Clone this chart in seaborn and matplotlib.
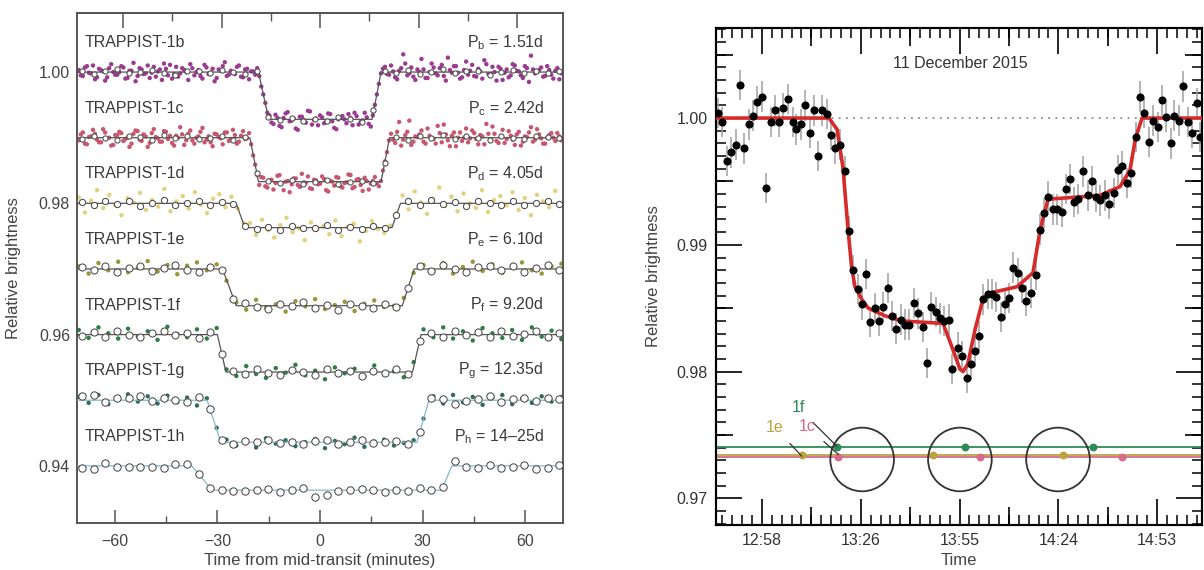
import numpy as np
import pandas as pd
import matplotlib
matplotlib.use("Agg")
import matplotlib.pyplot as plt
import seaborn as sns
from matplotlib.ticker import MultipleLocator

# ---------------- left panel: folded transits of the seven planets ----------------
planets = ["b", "c", "d", "e", "f", "g", "h"]
periods = ["1.51d", "2.42d", "4.05d", "6.10d", "9.20d", "12.35d", "14\u201325d"]
baselines = [1.00, 0.99, 0.98, 0.97, 0.96, 0.95, 0.94]
# transit shape: ingress start/end, egress start/end (min), depth (1e-4)
ing_start = [-18.0, -20.5, -24.5, -28.5, -30.0, -33.0, -37.5]
ing_end = [-15.0, -18.0, -22.0, -24.5, -27.5, -29.0, -31.5]
egr_start = [15.2, 17.8, 21.0, 24.0, 27.0, 28.3, 35.5]
egr_end = [17.8, 20.3, 23.5, 27.5, 29.5, 31.8, 38.5]
depth = [72, 67, 37, 56, 57, 64, 37]

dot_colors = {"b": "#9b3a8f", "c": "#c9566f", "d": "#e2d27e", "e": "#9a9438",
              "f": "#2f7d45", "g": "#2f6e5c"}
line_colors = ["#555555", "#555555", "#555555", "#555555", "#555555", "#86b7cc", "#86b7cc"]
bin_sizes = [14, 14, 20, 26, 26, 28, 28]

# individual measurements, offsets from baseline in units of 1e-4
dots_b = [3, -6, 9, -2, -11, 5, 1, -8, 12, -4, 0, 7, -9, 2, -14, 6, -3, 10, -1, -7,
          4, 13, -5, -10, 8, -2, 3, -12, 6, 0, -6, 11, -3, 5, -9, 2, 15, -4, -1, 8,
          -7, 4, -11, 1, 6, -22, -47,
          -66, -79, -70, -84, -63, -75, -71, -88, -68, -77, -60, -73, -81, -69, -76, -64,
          -85, -72, -67, -78, -70, -62, -80, -74, -69, -83, -50, -18,
          5, -3, 10, -8, 2, 27, -5, 7, -12, 0, 4, -9, 13, -2, 6, -6, 22, -1, 9, -10,
          3, -4, 11, -7, 1, 18, -3, 8, -13, 5, -1, -8, 12, 2, -5, 9, -15, 4, 0, 7,
          -6, 3, -10, 6, -2]
dots_b2 = [-5, 7, -1, 10, -8, 3, -13, 6, 0, -4, 9, -10, 2, 14, -6, 4, -2, -9, 8, 1,
           -12, 5, 11, -3, -7, 6, 0, 12, -5, 3, -10, 7, -1, -14, 4, 9, -6, 2, -3, 10,
           -8, 5, 1, -4, -6, -34, -62,
           -77, -65, -82, -70, -61, -74, -86, -68, -73, -59, -80, -71, -66, -78, -63, -75,
           -87, -69, -72, -64, -81, -67, -76, -62, -79, -66, -34, -2,
           8, -4, 1, -11, 6, 13, -2, -7, 4, 20, -9, 0, 7, -5, 11, -13, 3, 9, -1, -8,
           16, 2, -6, 5, -10, 12, -3, 0, 8, -12, 4, -5, 10, 1, -9, 6, 25, -2, 3, -7,
           9, -4, 2, -11]
dots_c = [-4, 8, -10, 2, 6, -7, 13, -1, -12, 4, 9, -5, 0, -9, 11, -3, 5, -14, 7, 1,
          -6, 10, -2, -8, 3, 16, -11, 6, -4, 0, 9, -7, 2, -13, 5, -1, 8, -5, 12, -9,
          3, -2, 7, -27, -57,
          -60, -74, -65, -79, -58, -70, -67, -83, -62, -72, -55, -69, -77, -64, -71, -59,
          -80, -66, -73, -61, -76, -68, -57, -75, -63, -81, -66, -70, -60, -74, -50, -22,
          6, -8, 24, -3, 9, -11, 2, 5, -6, 14, -1, -9, 7, 20, -4, 3, -13, 8, 0, -7,
          11, -2, 4, -10, 6, 17, -5, 1, -8, 10, -3, 5, -12, 2, 8, -6, 13, -1, -9, 4,
          0, 7, -4]
dots_c2 = [5, -9, 1, 12, -3, -7, 8, 0, -11, 4, 7, -2, -14, 6, 10, -5, 2, -8, 13, -1,
           -6, 9, 3, -12, 0, 5, -4, 11, -9, 2, 15, -3, -7, 6, 1, -10, 8, -2, 4, -6,
           10, -1, -10, -41,
           -72, -61, -76, -64, -69, -57, -80, -66, -71, -62, -75, -68, -59, -78, -65, -70,
           -63, -82, -67, -60, -74, -69, -56, -77, -64, -72, -61, -79, -66, -70,
           -66, -36, -4,
           -3, 9, -12, 4, 26, -6, 1, 11, -9, 3, -2, 18, -7, 5, -13, 8, 0, -5, 14, -1,
           7, -10, 2, 21, -4, 6, -8, 12, -2, 3, -11, 9, -6, 1, 16, -3, 5, -9, 0, 7,
           -5, 2]
dots_d = [9, -14, 4, 20, -7, 13, -3, -18, 8, 1, 16, -10, 5, -5, 22, -12, 3, 11, -8, 17,
          -2, -15, 7, 14, -6, 10, -8, -30,
          -30, -48, -25, -41, -52, -33, -22, -44, -38, -56, -29, -40, -35, -47, -26, -50,
          -36, -31, -58, -42, -27, -39, -45, -34, -15,
          12, -9, 18, 2, -16, 7, 24, -4, 10, -12, 15, 0, -7, 20, -13, 5, 11, -3, 17, -10,
          8, -18, 13, 3, -6, 19, -1]
dots_e = [4, -7, 9, -2, 11, -5, 2, 12, -4, 6, -8, 5, 10, -2, 7, -18,
          -51, -62, -47, -59, -54, -65, -49, -57, -46, -61, -55, -50, -64, -53, -48, -58, -56,
          -44, -6, 6, -4, 9, -7, 3, 11, -3, 7, -6, 5, 10, -2, -7, 4, 8]
dots_f = [7, -5, 11, 2, -6, 9, -3, 5, -8, 12, 1, -4, 8, -6, 10,
          -53, -63, -48, -60, -66, -51, -58, -46, -62, -55, -68, -50, -59, -52, -64, -47,
          -61, -56, -65, -42,
          8, -4, 11, -6, 5, -9, 10, 2, -5, 7, -8, 11, -3, 6, -7]
dots_g = [5, -4, 8, -6, 3, 9, -2, 6, -5, 7, -3, 4, -8, 3, -42,
          -60, -69, -63, -72, -58, -66, -61, -70, -64, -59, -73, -62, -67, -57, -71, -63,
          -60, -69, -65, -61, -28,
          6, -5, 8, -3, 5, -7, 4, 8, -6, 2, -4, 6, -2, 5]

# 3.4-minute binned points (open circles), offsets in 1e-4
bin_times = [-69.5, -66.1, -62.7, -59.3, -55.9, -52.5, -49.1, -45.7, -42.3, -38.9,
             -35.5, -32.1, -28.7, -25.3, -21.9, -18.5, -15.1, -11.7, -8.3, -4.9,
             -1.5, 1.9, 5.3, 8.7, 12.1, 15.5, 18.9, 22.3, 25.7, 29.1,
             32.5, 35.9, 39.3, 42.7, 46.1, 49.5, 52.9, 56.3, 59.7, 63.1, 66.5, 69.9]
bins_b = [2, -3, 1, 4, -2, 0, 3, -1, -4, 2, 1, -2, 3, 0, -3, 1, -68,
          -73, -70, -75, -71, -74, -69, -72, -76, -58,
          2, -1, 3, -3, 0, 4, -2, 1, 2, -4, 0, 3, -1, 2, -2, 1]
bins_c = [-2, 3, 0, -4, 2, 1, -3, 4, -1, 2, -2, 0, 3, -3, 1, -54,
          -66, -69, -64, -70, -67, -65, -71, -68, -66, -69, -38,
          1, -3, 2, 0, 4, -2, 3, -1, -4, 2, 0, -2, 3, 1, -1]
bins_d = [2, -3, 4, -1, 3, -4, 1, 5, -2, 0, 3, -3, 2, -1,
          -34, -39, -36, -41, -35, -38, -37, -33, -40, -36, -39, -35, -38, -18,
          3, -2, 5, -1, 2, -4, 3, 0, -3, 4, -2, 1, 3, -1]
bins_e = [3, -2, 5, -4, 1, 4, -3, 2, 6, -1, -5, 3, -2, -45,
          -52, -58, -61, -54, -57, -50, -59, -55, -62, -53, -57, -60, -54, -58, -29,
          4, -3, 6, 0, -5, 3, 5, -2, 4, -4, 2, 6, -1]
bins_f = [-2, 4, -3, 5, 0, -4, 3, 6, -1, 2, -5, 4, -30,
          -55, -60, -52, -58, -62, -54, -57, -61, -53, -59, -56, -63, -55, -58, -52, -60, -9,
          3, -4, 5, -1, 4, -3, 6, -2, 1, 5, -4, 2]
bins_g = [6, 8, -2, 3, 4, 6, -1, 3, 1, -2, 5, -14,
          -60, -66, -62, -64, -61, -65, -63, -67, -62, -60, -66, -64, -61, -65, -63, -62, -66,
          -49, 4, 2, -5, -1, 2, 6, -3, 2, 4, -1, 3, 2]
bins_h = [-3, -5, 4, -1, -2, -1, -1, -4, 3, 3, -12, -33,
          -37, -39, -38, -36, -35, -40, -37, -34, -47, -45, -38, -36, -35, -37, -40, -36,
          -38, -34, -37, -32, 8, -1, -3, 2, -4, -2, 1, -5, -3, 2]

# ---------------- right panel: 11 December 2015 triple transit ----------------
# minutes after 12:58
obs_time = [-12.7, -11.6, -10.3, -9.0, -7.7, -6.4, -5.1, -3.8, -2.5, -1.5,
            -0.1, 1.2, 2.5, 3.8, 5.0, 6.2, 7.5, 8.9, 10.0, 11.4,
            12.5, 14.0, 15.2, 16.4, 17.6, 18.9, 20.1, 21.3, 22.7,
            24.2, 25.4, 26.6, 27.9, 29.1, 30.3, 31.5, 33.0, 34.1, 35.4,
            36.7, 37.8, 39.1, 40.4, 41.7, 42.9, 44.2, 45.4, 46.8, 48.0,
            49.3, 50.7, 51.9, 53.1, 54.4, 55.5, 57.0, 58.3, 59.7,
            61.0, 62.1, 63.3, 64.5, 65.8, 67.0, 68.3, 69.6, 70.9, 72.0,
            73.3, 74.6, 75.9, 77.1, 78.5, 79.8, 81.1, 82.3, 83.5, 84.9,
            86.1, 87.4, 88.6, 89.8, 91.1, 92.2, 93.5,
            94.9, 96.1, 97.4, 98.6, 100.0, 101.3, 102.6, 103.7, 104.9, 106.4,
            107.6, 109.0, 110.2, 111.4, 112.7, 114.1, 115.4, 116.6, 117.8, 119.2,
            120.2, 121.6, 122.8, 124.1, 125.3, 126.8, 127.8]
obs_flux = [1.0004, 0.9997, 0.9966, 0.9973, 0.9979, 1.0026, 0.9976, 0.9995, 1.0002, 1.0013,
            1.0017, 0.9945, 0.9997, 1.0006, 0.9997, 1.0008, 1.0015, 0.9997, 0.9991, 0.9995,
            1.0010, 0.9988, 1.0006, 0.9970, 1.0006, 1.0003, 0.9987, 0.9976, 0.9979,
            0.9958, 0.9911, 0.9880, 0.9865, 0.9853, 0.9877, 0.9839, 0.9850, 0.9840, 0.9851,
            0.9866, 0.9844, 0.9834, 0.9841, 0.9837, 0.9837, 0.9854, 0.9846, 0.9835, 0.9807,
            0.9851, 0.9847, 0.9842, 0.9840, 0.9841, 0.9802, 0.9819, 0.9812, 0.9795,
            0.9806, 0.9816, 0.9828, 0.9857, 0.9861, 0.9861, 0.9859, 0.9843, 0.9853, 0.9858,
            0.9882, 0.9878, 0.9866, 0.9856, 0.9862, 0.9876, 0.9912, 0.9925, 0.9938, 0.9928,
            0.9928, 0.9926, 0.9944, 0.9952, 0.9934, 0.9936, 0.9958,
            0.9939, 0.9950, 0.9938, 0.9935, 0.9939, 0.9932, 0.9941, 0.9959, 0.9962, 0.9949,
            0.9957, 0.9985, 1.0017, 1.0004, 0.9981, 0.9998, 0.9993, 1.0014, 1.0001, 0.9980,
            1.0002, 0.9998, 1.0025, 0.9997, 0.9988, 1.0012, 0.9985]
obs_err = 0.0012

model_time = [-13.4, 19.5, 21.9, 23.6, 25.1, 26.1, 27.1, 29.1, 31.0, 35.9,
              40.7, 52.8, 55.3, 57.7, 58.6, 60.0, 62.1, 64.5, 66.5, 74.4,
              79.0, 81.1, 83.4, 98.6, 104.4, 107.3, 108.8, 110.8, 128.3]
model_flux = [1.0, 1.0, 0.9991, 0.9961, 0.9912, 0.9883, 0.9867, 0.9857, 0.9850, 0.9844,
              0.9840, 0.9838, 0.9820, 0.9802, 0.9800, 0.9806, 0.9833, 0.9858, 0.9862, 0.9867,
              0.9878, 0.9912, 0.9936, 0.9939, 0.9946, 0.9959, 0.9983, 1.0, 1.0]

time_ticks = [0, 28.8, 57.6, 86.4, 115.2]
time_labels = ["12:58", "13:26", "13:55", "14:24", "14:53"]

# transit-chord schematic
chord_names = ["1f", "1e", "1c"]
chord_colors = ["#2e8b57", "#b9a442", "#d66a8a"]
chord_levels = [0.97402, 0.97342, 0.97328]
chord_dot_times = [[21.8, 59.2, 96.5], [11.7, 49.9, 87.8], [22.2, 63.6, 104.9]]
star_times = [29.2, 57.7, 86.3]
star_level = 0.97307

# ---------------- figure ----------------
sns.set_theme(style="ticks")
plt.rcParams["font.family"] = ["Liberation Sans", "DejaVu Sans"]
plt.rcParams["mathtext.fontset"] = "custom"
plt.rcParams["mathtext.rm"] = "Liberation Sans"

fig = plt.figure(figsize=(12.04, 5.70), dpi=100)
ax1 = fig.add_axes([0.0640, 0.0825, 0.4037, 0.8947])
ax2 = fig.add_axes([0.5947, 0.0789, 0.4037, 0.8719])

grid_a = np.linspace(-70.5, 70.5, 120)
grid_a2 = np.linspace(-69.91, 69.91, 119)
grid_b = np.linspace(-70.5, 70.5, 80)
grid_c = np.linspace(-70.5, 70.5, 50)
dot_sets = [("b", grid_a, dots_b), ("b", grid_a2, dots_b2),
            ("c", grid_a, dots_c), ("c", grid_a2, dots_c2),
            ("d", grid_b, dots_d), ("e", grid_c, dots_e),
            ("f", grid_c, dots_f), ("g", grid_c, dots_g)]
bin_sets = [bins_b, bins_c, bins_d, bins_e, bins_f, bins_g, bins_h]

frames = []
for p, t, v in dot_sets:
    base = baselines[planets.index(p)]
    frames.append(pd.DataFrame({"time": t, "flux": base + np.array(v) * 1e-4, "planet": p}))
dots_df = pd.concat(frames, ignore_index=True)
sns.scatterplot(data=dots_df, x="time", y="flux", hue="planet", palette=dot_colors,
                s=10, linewidth=0, legend=False, ax=ax1, zorder=2)

for i, p in enumerate(planets):
    base = baselines[i]
    d = depth[i] * 1e-4
    mt = [-71, ing_start[i], ing_end[i], egr_start[i], egr_end[i], 71]
    mv = [base, base, base - d, base - d, base, base]
    sns.lineplot(x=mt, y=mv, color=line_colors[i], lw=0.9, ax=ax1, zorder=3)
    bins_flux = base + np.array(bin_sets[i]) * 1e-4
    ax1.scatter(bin_times, bins_flux, s=bin_sizes[i], facecolors="white", edgecolors="#4a4a4a",
                linewidths=0.75, zorder=4)
    ax1.text(-68.8, base + 0.0045, f"TRAPPIST-1{p}", fontsize=11.5, color="#3a3a3a",
             ha="left", va="center")
    ax1.text(65.3, base + 0.0045, "P$_{\\mathrm{%s}}$ = %s" % (p, periods[i]),
             fontsize=11.5, color="#3a3a3a", ha="right", va="center")

ax1.set_xlim(-71, 71)
ax1.set_ylim(0.9313, 1.009)
ax1.set_xticks([-60, -30, 0, 30, 60])
ax1.set_xticks([-45, -15, 15, 45], minor=True)
ax1.set_yticks([0.94, 0.96, 0.98, 1.00])
ax1.set_yticklabels(["0.94", "0.96", "0.98", "1.00"])
ax1.tick_params(axis="x", which="major", direction="in", length=9.5, width=1.1,
                color="#555555", labelsize=11.5, labelcolor="#444444", pad=8)
ax1.tick_params(axis="x", which="minor", direction="in", length=5, width=1.0, color="#555555")
ax1.tick_params(axis="y", which="major", direction="in", length=5, width=1.0,
                color="#555555", labelsize=11.5, labelcolor="#444444", pad=5)
for s in ax1.spines.values():
    s.set_color("#555555")
    s.set_linewidth(1.4)
top1 = ax1.secondary_xaxis("top")
top1.set_xticks([-57.6, -28.8, 0, 28.8, 57.6])
top1.set_xticks([-43.2, -14.4, 14.4, 43.2], minor=True)
top1.tick_params(which="major", direction="in", length=10.5, width=1.1, color="#555555",
                 labeltop=False)
top1.tick_params(which="minor", direction="in", length=5.5, width=1.0, color="#555555")
top1.spines["top"].set_color("#555555")
top1.spines["top"].set_linewidth(1.4)
ax1.set_xlabel("Time from mid-transit (minutes)", fontsize=12, color="#444444")
ax1.set_ylabel("Relative brightness", fontsize=12, color="#444444")
ax1.xaxis.set_label_coords(0.5, -0.058)
ax1.yaxis.set_label_coords(-0.115, 0.5)

# right panel
ax2.axhline(1.0, color="#8a8a8a", ls=(0, (1, 3)), lw=1.3, zorder=1)
ax2.errorbar(obs_time, obs_flux, yerr=obs_err, fmt="none", ecolor="#a0a0a0",
             elinewidth=1.1, zorder=2)
sns.lineplot(x=model_time, y=model_flux, color="#d62b2b", lw=2.6, ax=ax2, zorder=3)
sns.scatterplot(x=obs_time, y=obs_flux, color="black", s=34, linewidth=0, ax=ax2, zorder=4)

for name, col, lev, dts in zip(chord_names, chord_colors, chord_levels, chord_dot_times):
    ax2.axhline(lev, color=col, lw=1.3, zorder=2)
    ax2.scatter(dts, [lev] * len(dts), s=22, color=col, zorder=3)
ax2.scatter(star_times, [star_level] * len(star_times), s=2100, facecolors="none",
            edgecolors="#333333", linewidths=1.3, zorder=3)
ax2.annotate("1f", xy=(21.8, 0.97412), xytext=(10.5, 0.97717), color=chord_colors[0],
             fontsize=11.5, ha="center", va="center",
             arrowprops=dict(arrowstyle="-", color="#333333", lw=0.9, shrinkA=5, shrinkB=0))
ax2.annotate("1c", xy=(22.3, 0.97346), xytext=(13.1, 0.97567), color=chord_colors[2],
             fontsize=11.5, ha="center", va="center",
             arrowprops=dict(arrowstyle="-", color="#333333", lw=0.9, shrinkA=5, shrinkB=0))
ax2.annotate("1e", xy=(11.6, 0.97333), xytext=(3.8, 0.97559), color=chord_colors[1],
             fontsize=11.5, ha="center", va="center",
             arrowprops=dict(arrowstyle="-", color="#333333", lw=0.9, shrinkA=5, shrinkB=0))
ax2.text(57.7, 1.0043, "11 December 2015", fontsize=11.5, color="#333333",
         ha="center", va="center")

ax2.set_xlim(-13.4, 128.3)
ax2.set_ylim(0.9679, 1.0071)
ax2.set_xticks(time_ticks)
ax2.set_xticklabels(time_labels)
ax2.set_yticks([0.97, 0.98, 0.99, 1.00])
ax2.set_yticklabels(["0.97", "0.98", "0.99", "1.00"])
ax2.xaxis.set_minor_locator(MultipleLocator(2.88))
ax2.yaxis.set_minor_locator(MultipleLocator(0.001))
ax2.tick_params(which="major", direction="in", length=19, width=1.2, color="black",
                top=True, right=True, labelsize=11.5, labelcolor="#333333", pad=6)
ax2.tick_params(which="minor", direction="in", length=7.5, width=1.1, color="black",
                top=True, right=True)
for s in ax2.spines.values():
    s.set_color("black")
    s.set_linewidth(1.5)
for loc in ["top", "bottom"]:
    sec = ax2.secondary_xaxis(loc)
    sec.set_xticks([14.4, 43.2, 72.0, 100.8])
    sec.tick_params(direction="in", length=13, width=1.2, color="black",
                    labelbottom=False, labeltop=False)
    sec.spines[loc].set_linewidth(1.5)
for loc in ["left", "right"]:
    sec = ax2.secondary_yaxis(loc)
    sec.set_yticks([0.975, 0.985, 0.995, 1.005])
    sec.tick_params(direction="in", length=12, width=1.2, color="black",
                    labelleft=False, labelright=False)
    sec.spines[loc].set_linewidth(1.5)
ax2.set_xlabel("Time", fontsize=12, color="#444444")
ax2.set_ylabel("Relative brightness", fontsize=12, color="#444444")
ax2.xaxis.set_label_coords(0.5, -0.056)
ax2.yaxis.set_label_coords(-0.113, 0.5)

fig.savefig("out.png", dpi=100)
plt.close(fig)
